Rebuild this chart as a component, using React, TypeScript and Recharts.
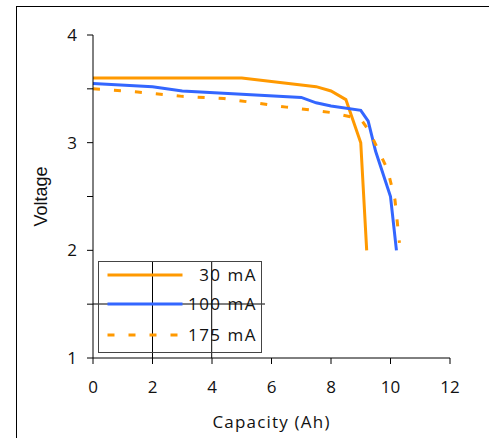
import { Line, LineChart, XAxis, YAxis } from "recharts";

const capacity30 = [0, 5, 7.5, 8, 8.5, 9, 9.2];
const voltage30 = [3.6, 3.6, 3.52, 3.48, 3.4, 3.0, 2.0];

const capacity100 = [0, 2, 3, 7, 7.5, 8, 9, 9.25, 9.5, 10, 10.2];
const voltage100 = [3.55, 3.52, 3.48, 3.42, 3.37, 3.34, 3.3, 3.2, 2.92, 2.5, 2.0];

const capacity175 = [0, 1.5, 3, 4.4, 6.5, 8, 9, 9.3, 9.9, 10.15, 10.3];
const voltage175 = [3.5, 3.47, 3.43, 3.41, 3.33, 3.28, 3.22, 3.1, 2.75, 2.47, 2.07];

const xTicks = [0, 2, 4, 6, 8, 10, 12];
const yTicks = [1, 1.5, 2, 2.5, 3, 3.5, 4];

const ORANGE = "#ff9900";
const BLUE = "#3366ff";
const DASH = "7 14";
const FONT = "'Open Sans', sans-serif";

const toRows = (xs: number[], ys: number[]) =>
  xs.map((x, i) => ({ capacity: x, voltage: ys[i] }));

const series = [
  { id: "30", label: "30 mA", color: ORANGE, dash: undefined, rows: toRows(capacity30, voltage30) },
  { id: "100", label: "100 mA", color: BLUE, dash: undefined, rows: toRows(capacity100, voltage100) },
  { id: "175", label: "175 mA", color: ORANGE, dash: DASH, rows: toRows(capacity175, voltage175) },
];

function BoxLegend() {
  const rowY = [14, 43, 74];
  return (
    <svg
      width={164}
      height={92}
      style={{ position: "absolute", left: 98, top: 261, overflow: "visible" }}
    >
      {/* stray gridline bits that show through the legend in the original */}
      <line x1={54.5} y1={0} x2={54.5} y2={97} stroke="#000" strokeWidth={1} />
      <line x1={113.7} y1={0} x2={113.7} y2={97} stroke="#000" strokeWidth={1} />
      <line x1={-5} y1={43} x2={167} y2={43} stroke="#000" strokeWidth={1} />
      <rect x={0.5} y={0.5} width={163} height={91} fill="none" stroke="#444" strokeWidth={1} />
      {series.map((item, i) => (
        <g key={item.id}>
          <line
            x1={9.5}
            x2={84.5}
            y1={rowY[i]}
            y2={rowY[i]}
            stroke={item.color}
            strokeWidth={3}
            strokeDasharray={item.dash}
          />
          <text
            x={159}
            y={rowY[i] + 6}
            textAnchor="end"
            fontFamily={FONT}
            fontSize={17}
            letterSpacing={1.5}
            fill="#111"
          >
            {item.label}
          </text>
        </g>
      ))}
    </svg>
  );
}

function XTitle({ viewBox }: any) {
  return (
    <text
      x={viewBox.x + viewBox.width / 2}
      y={viewBox.y + 70}
      textAnchor="middle"
      fontFamily={FONT}
      fontSize={17}
      letterSpacing={1.2}
      fill="#111"
    >
      Capacity (Ah)
    </text>
  );
}

function YTitle({ viewBox }: any) {
  const x = viewBox.x + 31;
  const y = viewBox.y + viewBox.height / 2;
  return (
    <text
      x={x}
      y={y}
      transform={`rotate(-90, ${x}, ${y})`}
      textAnchor="middle"
      fontFamily="'Liberation Sans', Arial, sans-serif"
      fontSize={18}
      fill="#111"
    >
      Voltage
    </text>
  );
}

export default function App() {
  return (
    <div style={{ position: "absolute", left: 0, top: 0, width: 489, height: 438, background: "#fff" }}>
      <div
        style={{
          position: "absolute",
          left: 16,
          top: 6,
          width: 480,
          height: 440,
          borderLeft: "1.5px solid #000",
          borderTop: "1.5px solid #000",
        }}
      />
      <LineChart
        width={489}
        height={438}
        margin={{ top: 35, right: 39, bottom: 0, left: 16 }}
        style={{ position: "absolute", left: 0, top: 0 }}
      >
        <XAxis
          dataKey="capacity"
          type="number"
          domain={[0, 12]}
          ticks={xTicks}
          allowDuplicatedCategory={false}
          height={80}
          stroke="#000"
          tickSize={6}
          tickMargin={17}
          tick={{ fill: "#111", fontSize: 17, fontFamily: FONT }}
          label={{ content: XTitle }}
        />
        <YAxis
          type="number"
          domain={[1, 4]}
          ticks={yTicks}
          width={77}
          stroke="#000"
          tickSize={6}
          tickMargin={10}
          tick={{ fill: "#111", fontSize: 17, fontFamily: FONT }}
          tickFormatter={(v: number) => (Number.isInteger(v) ? String(v) : "")}
          label={{ content: YTitle }}
        />
        {series.map((item) => (
          <Line
            key={item.id}
            data={item.rows}
            dataKey="voltage"
            name={item.label}
            type="linear"
            stroke={item.color}
            strokeWidth={3}
            strokeDasharray={item.dash}
            strokeLinejoin="miter"
            dot={false}
            activeDot={false}
            isAnimationActive={false}
          />
        ))}
      </LineChart>
      <BoxLegend />
    </div>
  );
}
